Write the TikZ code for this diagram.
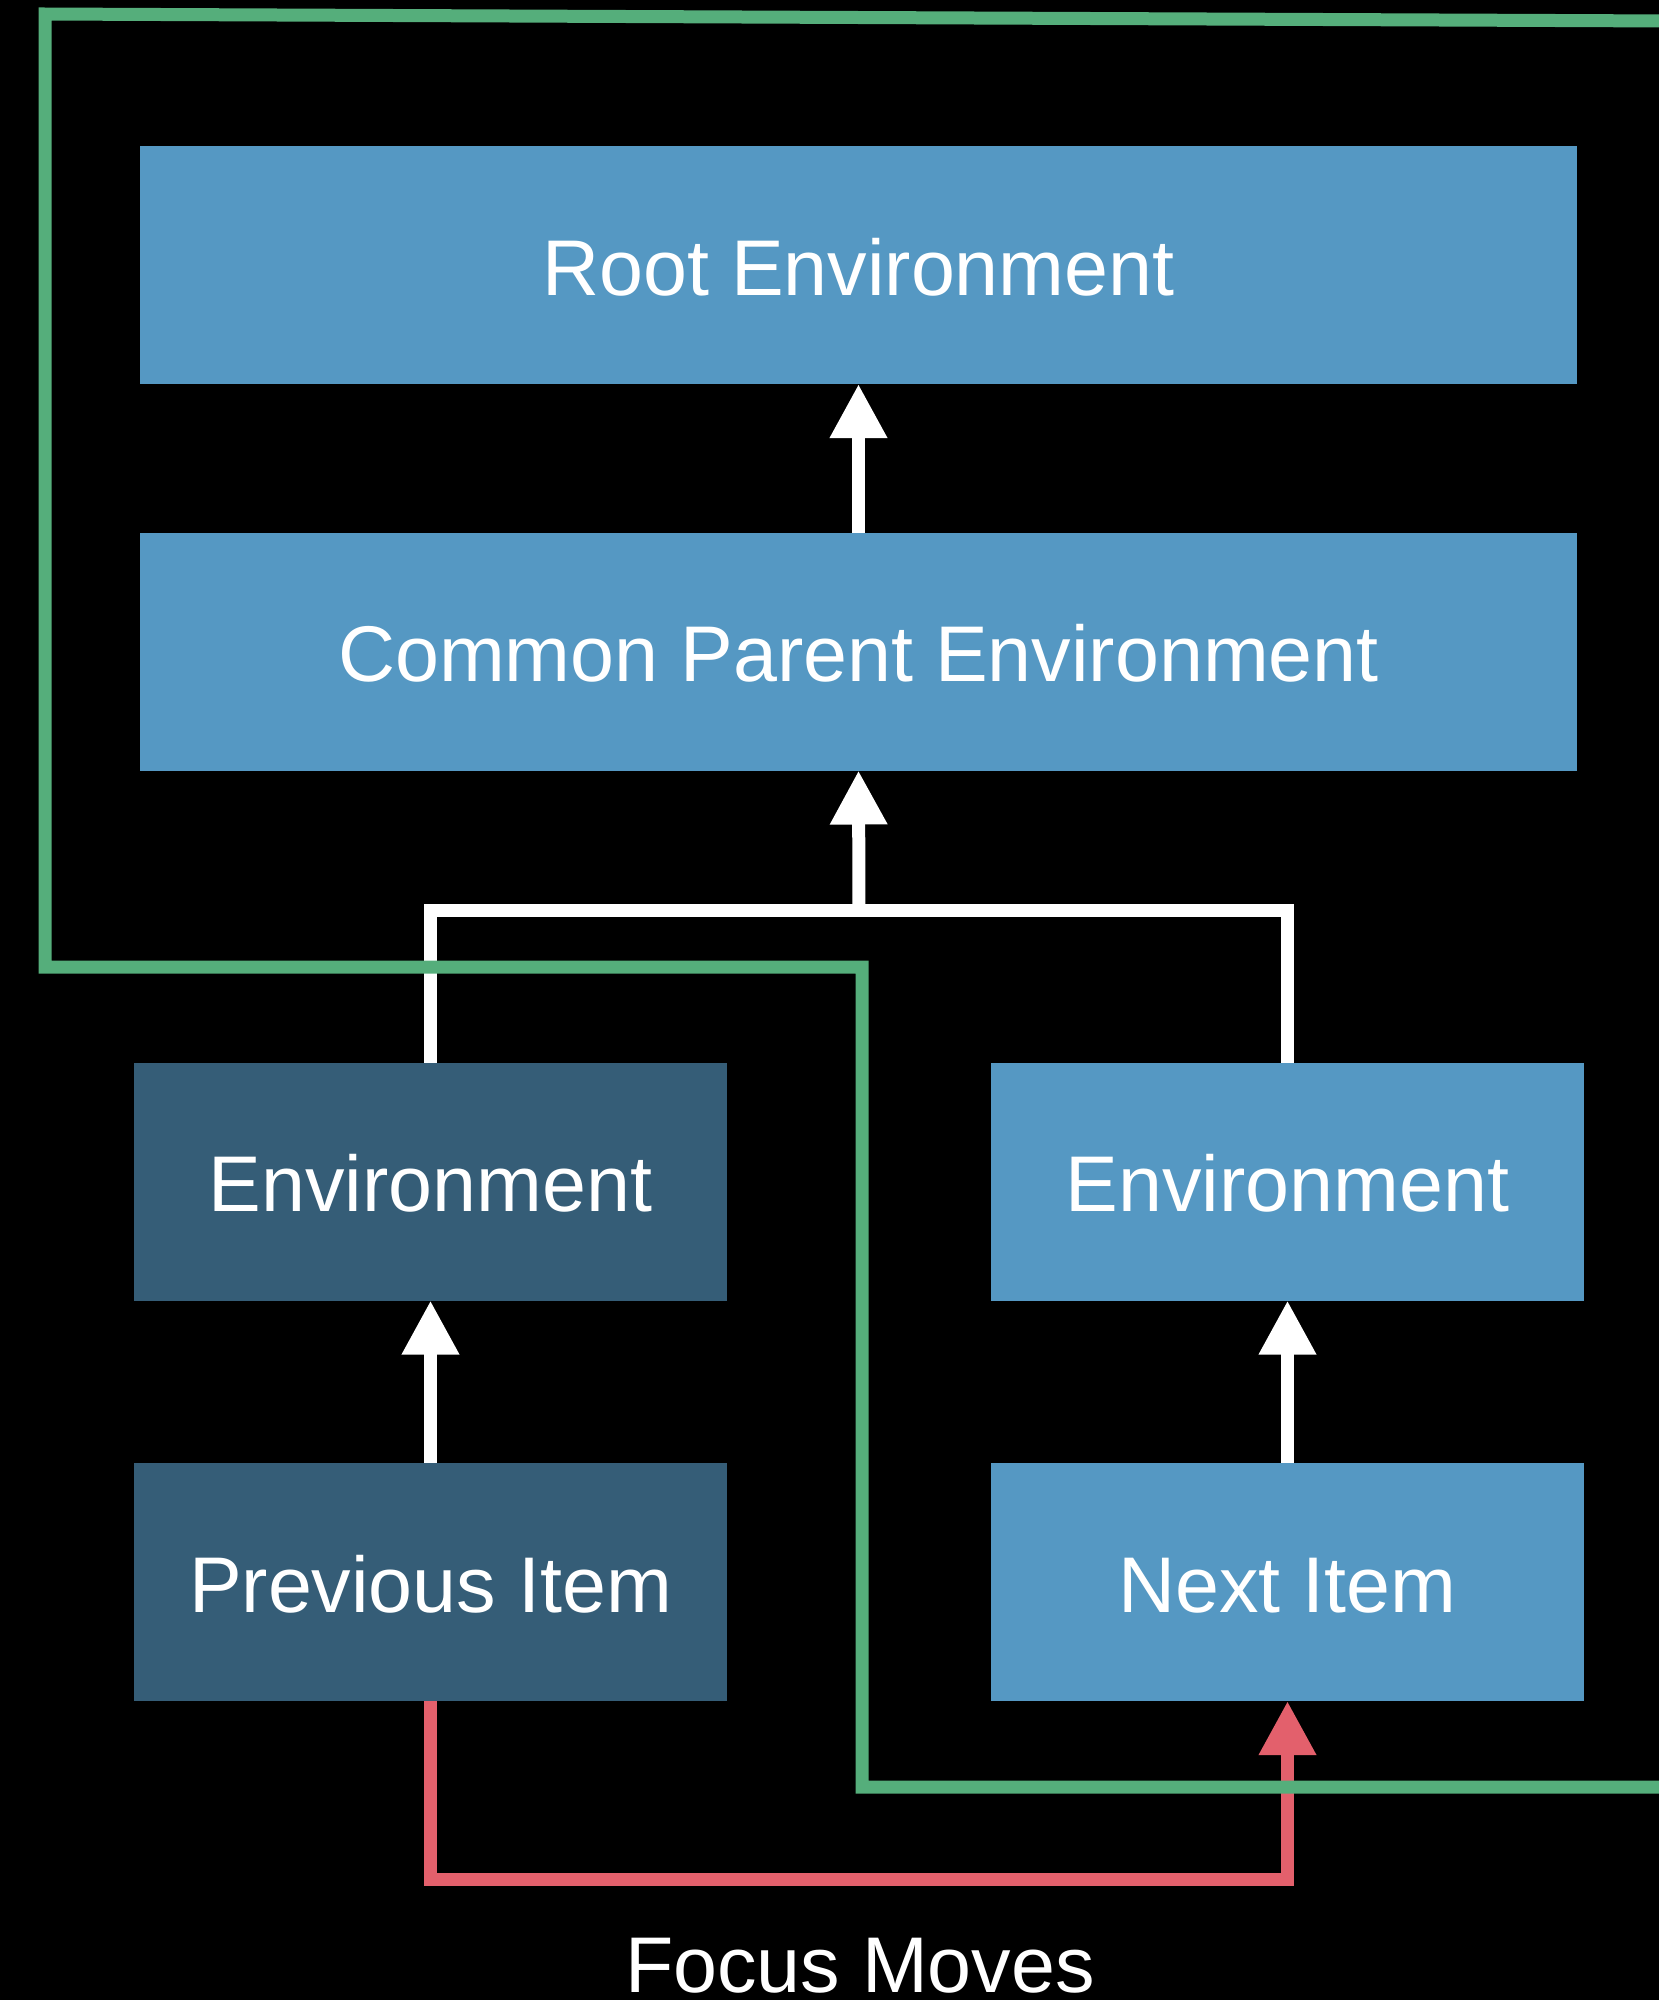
\documentclass[tikz,border=0pt]{standalone}
\usepackage{fontspec}
\setmainfont{Liberation Sans}
\usetikzlibrary{arrows.meta}
\definecolor{boxblue}{HTML}{5598C3}
\definecolor{boxdark}{HTML}{355D77}
\definecolor{pathgreen}{HTML}{55AE7B}
\definecolor{focusred}{HTML}{E3606C}
\tikzset{
  envbox/.style={fill=boxblue, inner sep=0pt, outer sep=0pt, text=white,
    font=\fontsize{79}{90}\selectfont, text height=60pt, text depth=-4pt},
  darkbox/.style={envbox, fill=boxdark},
  wide/.style={minimum width=1437pt, minimum height=238pt},
  half/.style={minimum width=593pt, minimum height=238pt},
  tip/.style={-{Triangle[width=54pt,length=54pt]}},
  wline/.style={draw=white, line width=13pt, miter limit=10},
  rline/.style={draw=focusred, line width=13pt, miter limit=10},
  gline/.style={draw=pathgreen, line width=13pt, miter limit=10},
}
\begin{document}
\begin{tikzpicture}[x=1pt,y=-1pt]
  \fill[black] (0,0) rectangle (1659,2000);
  \useasboundingbox (0,0) rectangle (1659,2000);

  % environment hierarchy
  \node[envbox, wide] (root) at (858.5,265) {Root Environment};
  \node[envbox, wide] (common) at (858.5,651.5) {Common Parent Environment};
  \node[darkbox, half] (envL) at (430.5,1181.5) {Environment};
  \node[envbox, half] (envR) at (1287.5,1181.5) {Environment};
  \node[darkbox, half] (prev) at (430.5,1582) {Previous Item};
  \node[envbox, half] (next) at (1287.5,1582) {Next Item};
  \node[text=white, font=\fontsize{79}{90}\selectfont, anchor=base] (focus)
    at (860,1992) {Focus Moves};

  % parent links
  \draw[wline, tip] (common.north) -- (root.south);
  \coordinate (junction) at (859,910);
  \draw[wline] (envL.north) |- (junction) -| (envR.north);
  \draw[wline, tip] (junction) -- (common.south);
  \draw[wline, tip] (prev.north) -- (envL.south);
  \draw[wline, tip] (next.north) -- (envR.south);

  % focus movement
  \coordinate (redlow) at (0,1879);
  \draw[rline, tip] (prev.south) -- (prev.south |- redlow) -| (next.south);

  % search path
  \coordinate (g0) at (1672,21);
  \coordinate (g1) at (45,14);
  \coordinate (g2) at (45,967);
  \coordinate (g3) at (862,967);
  \coordinate (g4) at (862,1787);
  \coordinate (g5) at (1672,1787);
  \draw[gline] (g0) -- (g1) -- (g2) -- (g3) -- (g4) -- (g5);
\end{tikzpicture}
\end{document}
